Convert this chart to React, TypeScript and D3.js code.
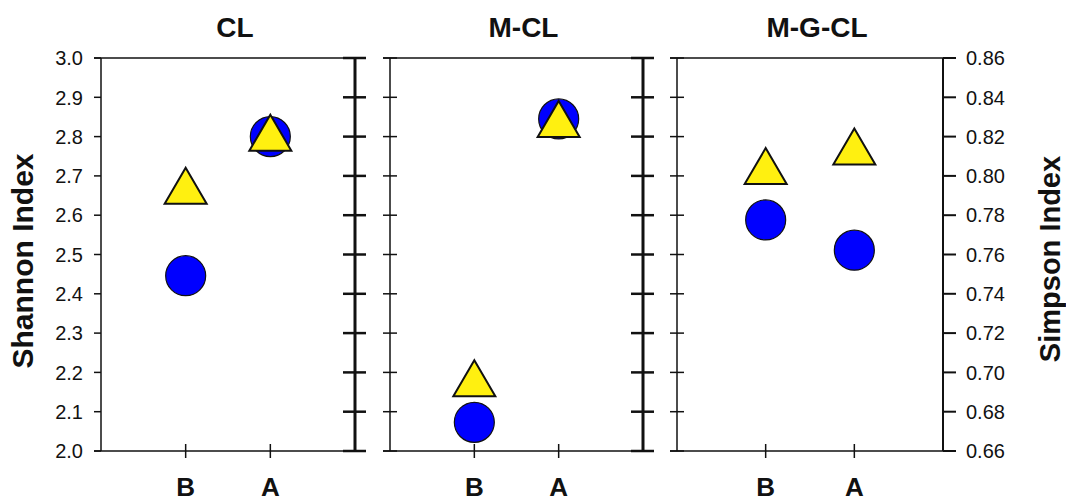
import React from "react";
import * as d3 from "d3";

const panelTitles = ["CL", "M-CL", "M-G-CL"];
const categories = ["B", "A"];
// Shannon index (blue circles), per panel, per category
const shannonValues = [
  [2.446, 2.8],
  [2.073, 2.845],
  [2.588, 2.511],
];
// Simpson index (yellow triangles), per panel, per category
const simpsonValues = [
  [0.795, 0.822],
  [0.697, 0.829],
  [0.805, 0.815],
];
const shannonTicks = [2.0, 2.1, 2.2, 2.3, 2.4, 2.5, 2.6, 2.7, 2.8, 2.9, 3.0];
const simpsonTicks = [0.66, 0.68, 0.7, 0.72, 0.74, 0.76, 0.78, 0.8, 0.82, 0.84, 0.86];

const W = 1066;
const H = 502;
const TOP = 58;
const BOTTOM = 451;
const FONT = "'Liberation Sans', Arial, Helvetica, sans-serif";

const frames = [
  { left: 101, right: 355 },
  { left: 390, right: 643 },
  { left: 677, right: 943 },
];

const yShannon = d3.scaleLinear().domain([2.0, 3.0]).range([BOTTOM, TOP]);
const ySimpson = d3.scaleLinear().domain([0.66, 0.86]).range([BOTTOM, TOP]);

function triPath(cx: number, cy: number) {
  const hw = 21;
  const hh = 18;
  return `M${cx},${cy - hh}L${cx + hw},${cy + hh}L${cx - hw},${cy + hh}Z`;
}

export default function App() {
  const fmtS = d3.format(".1f");
  const fmtP = d3.format(".2f");
  return (
    <svg
      width={W}
      height={H}
      style={{ position: "absolute", left: 0, top: 0, background: "#fff" }}
      fontFamily={FONT}
    >
      {/* Axis titles */}
      <text
        transform={`translate(33,261) rotate(-90)`}
        textAnchor="middle"
        fontSize={30}
        fontWeight="bold"
        fill="#111"
      >
        Shannon Index
      </text>
      <text
        transform={`translate(1060,259) rotate(-90)`}
        textAnchor="middle"
        fontSize={29}
        fontWeight="bold"
        fill="#111"
      >
        Simpson Index
      </text>

      {frames.map((f, pi) => {
        const x = d3.scaleLinear().domain([0, 3]).range([f.left, f.right]);
        const isFirst = pi === 0;
        const isLast = pi === frames.length - 1;
        const leftTickA = -7;
        const leftTickB = isFirst ? 0 : 7;
        const rightTickA = isLast ? 0 : -12;
        const rightTickB = isLast ? 13 : 11;
        const lineLeft = f.left + leftTickA;
        const lineRight = f.right + rightTickB;
        return (
          <g key={pi}>
            {/* title */}
            <text
              x={(f.left + f.right) / 2 + 7}
              y={37}
              textAnchor="middle"
              fontSize={28}
              fontWeight="bold"
              fill="#111"
            >
              {panelTitles[pi]}
            </text>
            {/* top & bottom */}
            <line x1={lineLeft} x2={lineRight} y1={TOP} y2={TOP} stroke="#111" strokeWidth={1.5} />
            <line x1={lineLeft} x2={lineRight} y1={BOTTOM} y2={BOTTOM} stroke="#111" strokeWidth={1.5} />
            {/* left axis */}
            <line x1={f.left} x2={f.left} y1={TOP} y2={BOTTOM} stroke="#111" strokeWidth={1.5} />
            {shannonTicks.map((t) => (
              <line
                key={"lt" + t}
                x1={f.left + leftTickA}
                x2={f.left + leftTickB}
                y1={yShannon(t)}
                y2={yShannon(t)}
                stroke="#111"
                strokeWidth={1.5}
              />
            ))}
            {isFirst &&
              shannonTicks.map((t) => (
                <text
                  key={"ll" + t}
                  x={83}
                  y={yShannon(t)}
                  dy="0.36em"
                  textAnchor="end"
                  fontSize={20}
                  fill="#111"
                >
                  {fmtS(t)}
                </text>
              ))}
            {/* right axis */}
            <line
              x1={f.right}
              x2={f.right}
              y1={TOP}
              y2={BOTTOM}
              stroke="#111"
              strokeWidth={isLast ? 2 : 3}
            />
            {simpsonTicks.map((t) => (
              <line
                key={"rt" + t}
                x1={f.right + rightTickA}
                x2={f.right + rightTickB}
                y1={ySimpson(t)}
                y2={ySimpson(t)}
                stroke="#111"
                strokeWidth={isLast ? 2 : 2.5}
              />
            ))}
            {isLast &&
              simpsonTicks.map((t) => (
                <text
                  key={"rl" + t}
                  x={966}
                  y={ySimpson(t)}
                  dy="0.36em"
                  textAnchor="start"
                  fontSize={20}
                  fill="#111"
                >
                  {fmtP(t)}
                </text>
              ))}
            {/* x ticks & labels */}
            {categories.map((c, ci) => (
              <g key={"x" + c}>
                <line
                  x1={x(ci + 1)}
                  x2={x(ci + 1)}
                  y1={BOTTOM - 7}
                  y2={BOTTOM + 7}
                  stroke="#111"
                  strokeWidth={1.5}
                />
                <text
                  x={x(ci + 1)}
                  y={496}
                  textAnchor="middle"
                  fontSize={26}
                  fontWeight="bold"
                  fill="#111"
                >
                  {c}
                </text>
              </g>
            ))}
            {/* circles */}
            {shannonValues[pi].map((v, ci) => (
              <circle
                key={"c" + ci}
                cx={x(ci + 1)}
                cy={yShannon(v)}
                r={20}
                fill="#0000ff"
                stroke="#111"
                strokeWidth={1.2}
              />
            ))}
            {/* triangles */}
            {simpsonValues[pi].map((v, ci) => (
              <path
                key={"t" + ci}
                d={triPath(x(ci + 1), ySimpson(v))}
                fill="#fff010"
                stroke="#111"
                strokeWidth={2}
                strokeLinejoin="miter"
              />
            ))}
          </g>
        );
      })}
    </svg>
  );
}
